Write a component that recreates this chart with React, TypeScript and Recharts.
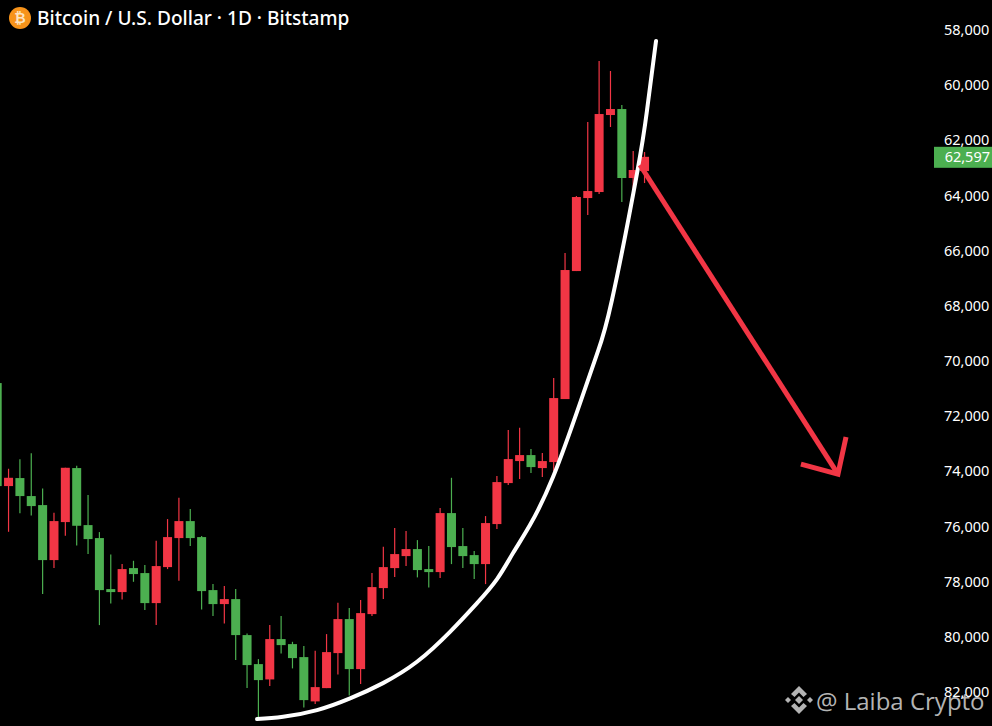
import React from "react";
import {
  ComposedChart,
  Bar,
  Line,
  XAxis,
  YAxis,
  ReferenceLine,
} from "recharts";

const UP = "#f23645";
const DOWN = "#4caf50";
const BODY_W = 9;

// price axis runs upside down, so red candles climb on screen
const opens = [70800, 74535, 74244, 74897, 75224, 77218, 75840, 73882, 75949, 76420, 78269, 78378, 77508, 77689, 78777, 77472, 76420, 75804, 76384, 78306, 78813, 78632, 79937, 80989, 81544, 80082, 80264, 80735, 82341, 81859, 80590, 79357, 81170, 79176, 78233, 77508, 77073, 76819, 77544, 77653, 75514, 76710, 77037, 77363, 75912, 74426, 73628, 73411, 73882, 73664, 71380, 66739, 64092, 63874, 61082, 60865, 63366, 63113];
const closes = [74535, 74234, 74897, 75260, 77218, 75804, 73871, 75974, 76456, 78306, 78378, 77544, 77725, 78777, 77435, 76384, 75804, 76420, 78342, 78813, 78632, 79937, 81025, 81569, 80082, 80300, 80771, 82294, 81823, 80554, 79357, 81170, 79140, 78197, 77472, 77000, 76819, 77580, 77653, 75514, 76746, 77073, 77363, 75876, 74390, 73556, 73411, 73846, 73628, 71344, 66702, 64055, 63838, 61046, 60865, 63366, 63076, 62597];
const lows = [70800, 73907, 73566, 73349, 74618, 75503, 73871, 73798, 74861, 76203, 77011, 77363, 77243, 77399, 76518, 75731, 74959, 75369, 76348, 78088, 78161, 78269, 79876, 80808, 79575, 79248, 80180, 80336, 80507, 79901, 78766, 78958, 78668, 77689, 76736, 76057, 76166, 76493, 76710, 75332, 74234, 76057, 76891, 75622, 74172, 72504, 72421, 73193, 73338, 70618, 66086, 64019, 61336, 59124, 59487, 60720, 62387, 62424];
const highs = [74535, 76192, 75524, 75597, 78451, 77508, 76337, 76685, 77000, 79575, 78788, 78643, 78005, 79031, 79575, 77544, 77968, 76710, 79005, 79248, 79513, 80844, 81859, 82921, 81787, 80601, 81145, 82559, 82439, 81859, 81362, 82124, 81714, 79248, 78632, 77834, 77435, 77845, 78208, 77870, 77363, 77508, 77907, 78088, 76094, 74498, 74281, 74063, 74208, 73991, 71380, 66739, 64708, 63947, 61517, 64237, 64164, 63548];

const curveIdx = [22.88, 25.17, 28.16, 31.07, 33.97, 36.96, 39.87, 42.25, 44.01, 45.42, 46.91, 48.94, 51.32, 52.81, 54.13, 56.34, 57.22, 58.01];
const curvePrice = [82983, 82900, 82657, 82233, 81678, 80905, 79818, 78777, 77907, 76964, 75949, 74208, 71525, 69748, 67790, 63185, 60901, 58399];

const shaftIdx = [56.6, 74.03];
const shaftPrice = [62895, 74099];
const headIdx = [74.74, 74.03, 70.77];
const headPrice = [72758, 74099, 73737];

const priceTicks = [58000, 60000, 62000, 64000, 66000, 68000, 70000, 72000, 74000, 76000, 78000, 80000, 82000];
const lastPrice = 62597;

const candles = opens.map((open, i) => ({
  idx: i,
  open,
  close: closes[i],
  low: lows[i],
  high: highs[i],
  range: [lows[i], highs[i]],
}));

const toRows = (xs: number[], ys: number[]) => xs.map((idx, i) => ({ idx, price: ys[i] }));

const CandleShape = (props: any) => {
  const { x, y, width, height, payload } = props;
  const top = Math.min(y, y + height);
  const h = Math.abs(height);
  const perUnit = h / (payload.high - payload.low || 1);
  const up = payload.close < payload.open;
  const color = up ? UP : DOWN;
  const bodyTop = top + (Math.min(payload.open, payload.close) - payload.low) * perUnit;
  const bodyH = Math.max(Math.abs(payload.open - payload.close) * perUnit, 1);
  const cx = x + width / 2;
  return (
    <g>
      <line x1={cx} x2={cx} y1={top} y2={top + h} stroke={color} strokeWidth={1.2} />
      <rect x={cx - BODY_W / 2} y={bodyTop} width={BODY_W} height={bodyH} fill={color} />
    </g>
  );
};

const PriceTag = (props: any) => {
  const { viewBox } = props;
  const right = viewBox.x + viewBox.width;
  return (
    <g>
      <rect x={right + 2} y={viewBox.y - 10} width={58} height={21} fill={DOWN} />
      <text x={right + 58} y={viewBox.y + 5} textAnchor="end" fill="#ffffff" fontSize={14.5} fontFamily="'Noto Sans', sans-serif">
        {lastPrice.toLocaleString("en-US")}
      </text>
    </g>
  );
};

export default function App() {
  return (
    <div style={{ position: "absolute", left: 0, top: 0, width: 992, height: 726, background: "#000", overflow: "hidden" }}>
      {/* watermark sits under the chart, the axis label overlaps it */}
      <div style={{ position: "absolute", left: 784, top: 685 }}>
        <svg width={30} height={30} viewBox="0 0 30 30">
          <g fill="#b4b4b4">
            <path d="M15 1 L23 9 L19.5 12 L15 7.5 L10.5 12 L7 9 Z" />
            <path d="M15 29 L23 21 L19.5 18 L15 22.5 L10.5 18 L7 21 Z" />
            <path d="M15 11 L19 15 L15 19 L11 15 Z" />
            <path d="M4 12 L7 15 L4 18 L1 15 Z" />
            <path d="M26 12 L29 15 L26 18 L23 15 Z" />
          </g>
        </svg>
      </div>
      <div style={{ position: "absolute", left: 816, top: 684, color: "#b4b4b4", fontFamily: "'Open Sans', sans-serif", fontSize: 24, whiteSpace: "nowrap" }}>
        @ Laiba Crypto
      </div>

      <div style={{ position: "absolute", left: 0, top: 0 }}>
        <ComposedChart width={992} height={726} data={candles} margin={{ top: 0, right: 0, bottom: 0, left: 0 }}>
          <XAxis
            type="number"
            dataKey="idx"
            hide
            domain={[0.2465, 82.31]}
            allowDataOverflow
            height={0}
          />
          <YAxis
            orientation="right"
            reversed
            width={60}
            domain={[56912, 83233]}
            allowDataOverflow
            ticks={priceTicks}
            interval={0}
            axisLine={false}
            tickLine={false}
            tick={{ fill: "#ffffff", fontSize: 14.5, fontFamily: "'Noto Sans', sans-serif", dx: 4 }}
            tickFormatter={(v: number) => v.toLocaleString("en-US")}
          />
          <Bar dataKey="range" barSize={9} shape={CandleShape} isAnimationActive={false} />
          <Line
            data={toRows(curveIdx, curvePrice)}
            dataKey="price"
            type="natural"
            stroke="#ffffff"
            strokeWidth={4}
            strokeLinecap="round"
            dot={false}
            activeDot={false}
            isAnimationActive={false}
          />
          <Line
            data={toRows(shaftIdx, shaftPrice)}
            dataKey="price"
            type="linear"
            stroke={UP}
            strokeWidth={5}
            dot={false}
            activeDot={false}
            isAnimationActive={false}
          />
          <Line
            data={toRows(headIdx, headPrice)}
            dataKey="price"
            type="linear"
            stroke={UP}
            strokeWidth={5}
            dot={false}
            activeDot={false}
            isAnimationActive={false}
          />
          <ReferenceLine y={lastPrice} stroke="none" label={<PriceTag />} />
        </ComposedChart>
      </div>

      <div style={{ position: "absolute", left: 9, top: 7, width: 22, height: 22, borderRadius: 11, background: "#f7931a", color: "#fde3c0", fontFamily: "'DejaVu Sans', sans-serif", fontSize: 14, fontWeight: 700, lineHeight: "22px", textAlign: "center" }}>
        ₿
      </div>
      <div style={{ position: "absolute", left: 37, top: 5, color: "#ffffff", fontFamily: "'Noto Sans', sans-serif", fontWeight: 500, fontSize: 19.1, whiteSpace: "nowrap" }}>
        Bitcoin / U.S. Dollar · 1D · Bitstamp
      </div>
    </div>
  );
}
